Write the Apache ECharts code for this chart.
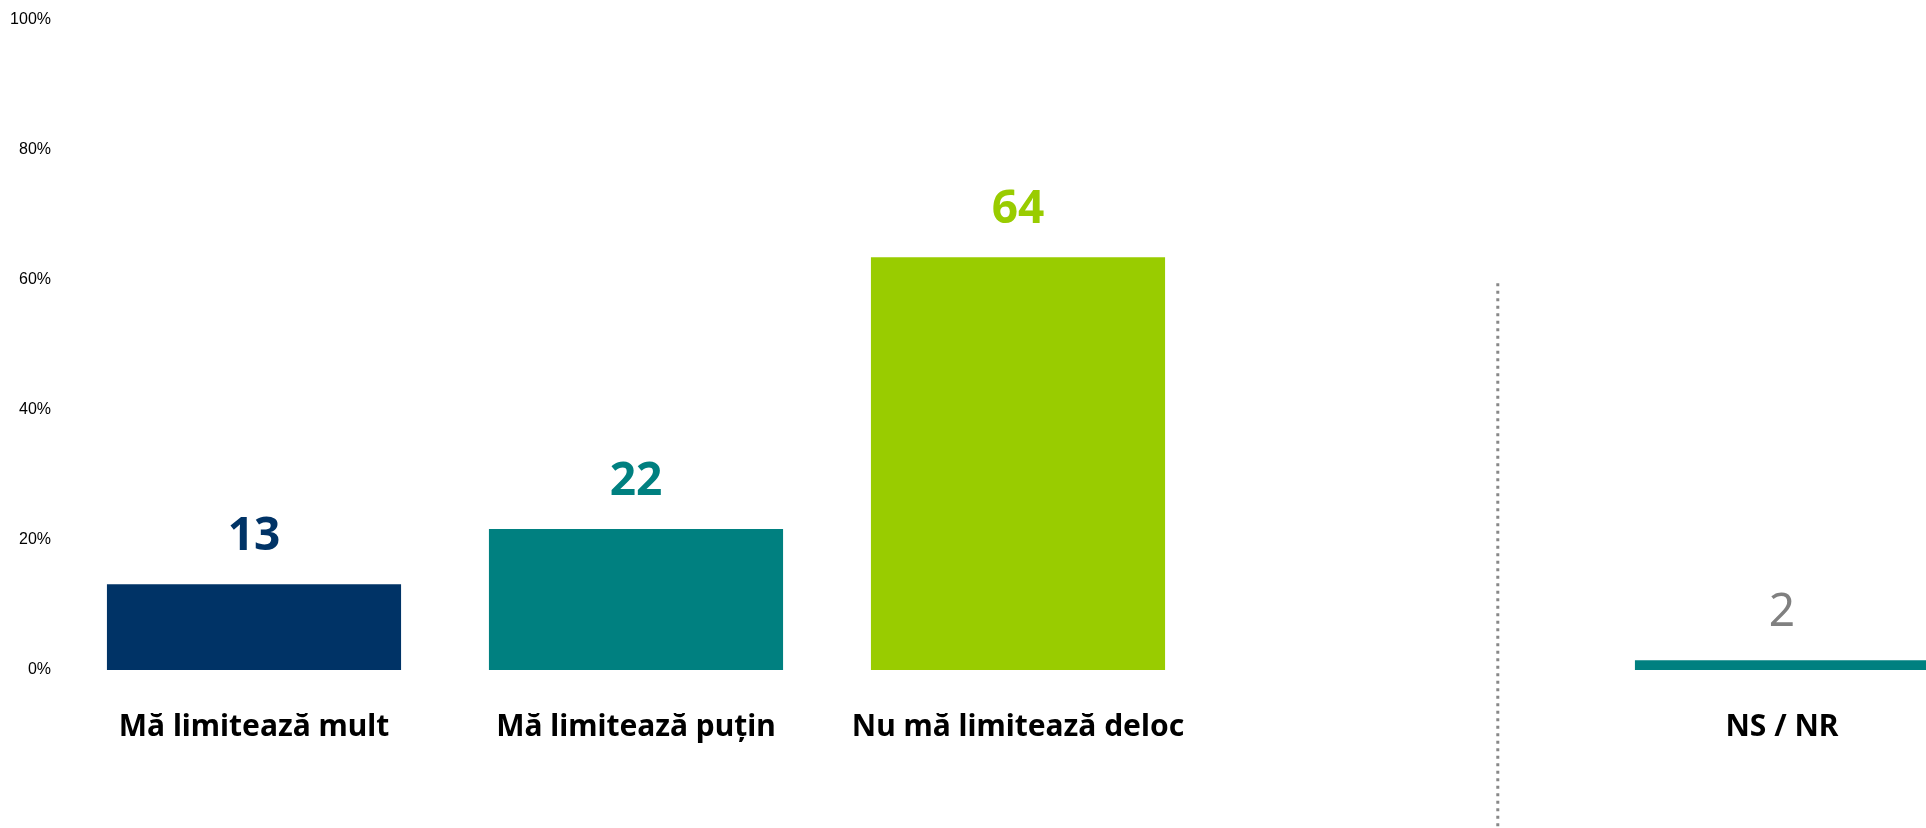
<!DOCTYPE html>
<html>
<head>
<meta charset="utf-8">
<script src="https://cdn.jsdelivr.net/npm/echarts@6/dist/echarts.min.js"></script>
<style>
html,body{margin:0;padding:0;background:#fff;}
#chart{width:1926px;height:828px;}
</style>
</head>
<body>
<div id="chart"></div>
<script>
// Data
const categories = ['Mă limitează mult', 'Mă limitează puțin', 'Nu mă limitează deloc', '', 'NS / NR'];
const values = [13.2, 21.7, 63.5, null, 1.5];
const barColors = ['#003366', '#008080', '#99CC00', '#008080', '#008080'];
const labelColors = ['#003366', '#008080', '#99CC00', '#808080', '#808080'];
const labelWeights = ['bold', 'bold', 'bold', 'normal', 'normal'];
const yTicks = [0, 20, 40, 60, 80, 100];
// separator: position on a 0..5 category-span scale, and vertical extent in % units
const separatorX = 3.756;
const separatorY = [59.5, -24.6];

const chart = echarts.init(document.getElementById('chart'), null, {renderer: 'canvas'});

const seriesData = values.map((v, i) => v === null ? null : {
  value: v,
  itemStyle: {color: barColors[i]},
  label: {color: labelColors[i], fontWeight: labelWeights[i]}
});

chart.setOption({
  animation: false,
  backgroundColor: '#ffffff',
  grid: {left: 63, top: 20, right: -47, bottom: 158, containLabel: false, outerBoundsMode: 'none'},
  xAxis: [{
    type: 'category',
    data: categories,
    axisLine: {show: false},
    axisTick: {show: false},
    axisLabel: {
      interval: 0,
      margin: 42,
      color: '#000000',
      fontFamily: 'Noto Sans',
      fontWeight: 'bold',
      fontSize: 30
    }
  }, {
    type: 'value', min: 0, max: 5, show: false
  }],
  yAxis: {
    type: 'value',
    min: yTicks[0],
    max: yTicks[yTicks.length - 1],
    interval: 20,
    axisLine: {show: false},
    axisTick: {show: false},
    splitLine: {show: false},
    axisLabel: {
      margin: 12,
      color: '#000000',
      fontFamily: 'Liberation Sans, Arial',
      fontSize: 16,
      padding: [3, 0, 0, 0],
      formatter: v => v + '%'
    }
  },
  series: [{
    type: 'bar',
    data: seriesData,
    barWidth: '77%',
    label: {
      show: true,
      position: 'top',
      distance: 24,
      fontFamily: 'Noto Sans',
      fontSize: 46,
      formatter: p => Math.round(p.value)
    }
  }]
});

function drawSeparator() {
  const x = chart.convertToPixel({xAxisIndex: 1}, separatorX);
  const y1 = chart.convertToPixel({yAxisIndex: 0}, separatorY[0]);
  const y2 = chart.convertToPixel({yAxisIndex: 0}, separatorY[1]);
  chart.setOption({
    graphic: [{
      type: 'line',
      shape: {x1: x, y1: y1, x2: x, y2: y2},
      style: {stroke: '#888888', lineWidth: 3, lineDash: [3, 4.5]},
      silent: true
    }]
  });
}
drawSeparator();
</script>
</body>
</html>
